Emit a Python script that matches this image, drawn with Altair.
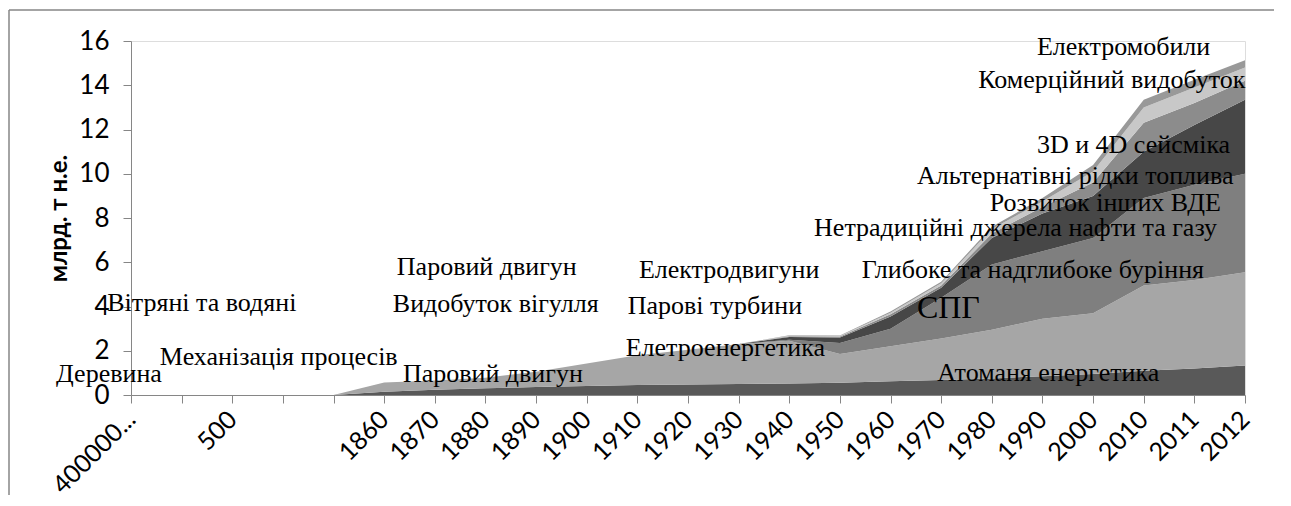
import altair as alt
import pandas as pd

# ---- categories (x axis) ----
categories = ["400000...", "", "500", "", "", "1860", "1870", "1880", "1890", "1900",
              "1910", "1920", "1930", "1940", "1950", "1960", "1970", "1980", "1990",
              "2000", "2010", "2011", "2012"]

# ---- stacked series values (bottom to top), млрд. т н.е. ----
s1 = [0, 0, 0, 0, 0, 0.15, 0.24, 0.30, 0.36, 0.41, 0.45, 0.47, 0.50, 0.52, 0.55, 0.62, 0.68, 0.75, 0.85, 0.95, 1.10, 1.20, 1.33]
s2 = [0, 0, 0, 0, 0, 0.42, 0.42, 0.48, 0.69, 1.01, 1.35, 1.58, 1.80, 1.93, 1.30, 1.58, 1.87, 2.20, 2.60, 2.75, 3.85, 4.00, 4.22]
s3 = [0, 0, 0, 0, 0, 0, 0, 0, 0, 0, 0, 0, 0, 0.05, 0.50, 0.80, 1.85, 2.95, 3.05, 3.40, 3.95, 4.30, 4.45]
s4 = [0, 0, 0, 0, 0, 0, 0, 0, 0, 0, 0, 0, 0, 0.12, 0.25, 0.55, 0.45, 1.20, 1.70, 1.90, 2.10, 2.70, 3.35]
s5 = [0, 0, 0, 0, 0, 0, 0, 0, 0, 0, 0, 0, 0, 0.04, 0.04, 0.10, 0.10, 0.20, 0.30, 0.60, 1.30, 1.00, 0.85]
s6 = [0, 0, 0, 0, 0, 0, 0, 0, 0, 0, 0, 0, 0, 0.02, 0.03, 0.07, 0.10, 0.20, 0.25, 0.50, 0.70, 0.70, 0.60]
s7 = [0, 0, 0, 0, 0, 0, 0, 0, 0, 0, 0, 0, 0, 0.02, 0.02, 0.05, 0.07, 0.10, 0.15, 0.30, 0.35, 0.35, 0.33]

series_values = [s1, s2, s3, s4, s5, s6, s7]
series_names = ["Ряд 1", "Ряд 2", "Ряд 3", "Ряд 4", "Ряд 5", "Ряд 6", "Ряд 7"]
series_colors = ["#595959", "#a6a6a6", "#7f7f7f", "#474747", "#8c8c8c", "#c8c8c8", "#999999"]

# ---- annotation texts (placed in data units: category index, value) ----
ann_text = ["Деревина", "Вітряні та водяні", "Механізація процесів", "Паровий двигун",
            "Паровий двигун", "Видобуток вігулля", "Електродвигуни", "Парові турбини",
            "Елетроенергетика", "Глибоке та надглибоке буріння", "СПГ", "Атоманя енергетика",
            "Нетрадиційні джерела нафти та газу", "Розвиток інших ВДЕ",
            "Альтернатівні рідки топлива", "3D и 4D сейсміка", "Комерційний видобуток",
            "Електромобили"]
ann_x = [-1.48, -0.47, 0.57, 5.37, 5.25, 5.17, 10.03, 9.81, 9.77, 14.43, 15.52, 15.92,
         13.49, 16.96, 15.52, 17.89, 16.73, 17.89]
ann_y = [0.96, 4.18, 1.73, 0.97, 5.78, 4.13, 5.67, 4.04, 2.14, 5.67, 3.95, 1.01,
         7.57, 8.66, 9.92, 11.28, 14.22, 15.71]
ann_big = [False] * 10 + [True] + [False] * 7

rows = []
for k, (name, vals) in enumerate(zip(series_names, series_values)):
    for i, v in enumerate(vals):
        rows.append({"idx": i, "value": v, "series": name, "order": k})
df = pd.DataFrame(rows)

ann = pd.DataFrame({"text": ann_text, "x": ann_x, "y": ann_y, "big": ann_big})

label_expr = "[" + ",".join("'" + c + "'" for c in categories) + "][datum.value]"

x_scale = alt.Scale(domain=[0, len(categories) - 1], nice=False, zero=False)
y_scale = alt.Scale(domain=[0, 16], nice=False)

areas = alt.Chart(df).mark_area(interpolate="linear").encode(
    x=alt.X("idx:Q", scale=x_scale,
            axis=alt.Axis(values=list(range(len(categories))), labelExpr=label_expr,
                          labelAngle=-45, labelAlign="right", labelBaseline="middle",
                          labelFont="Lato", labelFontSize=25, labelColor="#000000",
                          labelPadding=12, tickSize=8, tickColor="#868686",
                          domainColor="#868686", grid=False, title=None,
                          labelOverlap=False, labelBound=False, labelFlush=False)),
    y=alt.Y("value:Q", stack="zero", scale=y_scale,
            axis=alt.Axis(values=list(range(0, 17, 2)), title="млрд. т н.е.",
                          titleFont="Lato", titleFontSize=24, titleFontWeight="bold",
                          titleColor="#000000", titleX=-72, titleY=177,
                          titleAlign="center", titleBaseline="middle", titleAngle=-90,
                          labelFont="Lato", labelFontSize=26, labelColor="#000000",
                          labelPadding=14, tickSize=8, tickColor="#868686",
                          domainColor="#868686", grid=False)),
    color=alt.Color("series:N", scale=alt.Scale(domain=series_names, range=series_colors),
                    legend=None),
    order=alt.Order("order:Q"),
)

texts_small = alt.Chart(ann[~ann["big"]]).mark_text(
    font="Liberation Serif", fontSize=26, align="left", baseline="middle", color="#000000"
).encode(x=alt.X("x:Q", scale=x_scale), y=alt.Y("y:Q", scale=y_scale), text="text:N")

texts_big = alt.Chart(ann[ann["big"]]).mark_text(
    font="Liberation Serif", fontSize=32, align="left", baseline="middle", color="#000000"
).encode(x=alt.X("x:Q", scale=x_scale), y=alt.Y("y:Q", scale=y_scale), text="text:N")

frame = pd.DataFrame({"a": [0]})
border_top = alt.Chart(frame).mark_rule(color="#868686", strokeWidth=1.5).encode(
    x=alt.value(-122), x2=alt.value(1143), y=alt.value(-31))
border_left = alt.Chart(frame).mark_rule(color="#868686", strokeWidth=1.5).encode(
    x=alt.value(-122), y=alt.value(-31), y2=alt.value(470))

chart = alt.layer(areas, texts_small, texts_big, border_top, border_left).properties(
    width=1114, height=354,
    autosize=alt.AutoSizeParams(type="none"),
    padding={"left": 123, "top": 33, "right": 30, "bottom": 100},
).configure_view(stroke=None).configure(background="#ffffff")

chart.save("out.html", embed_options={"renderer": "svg", "actions": False})
